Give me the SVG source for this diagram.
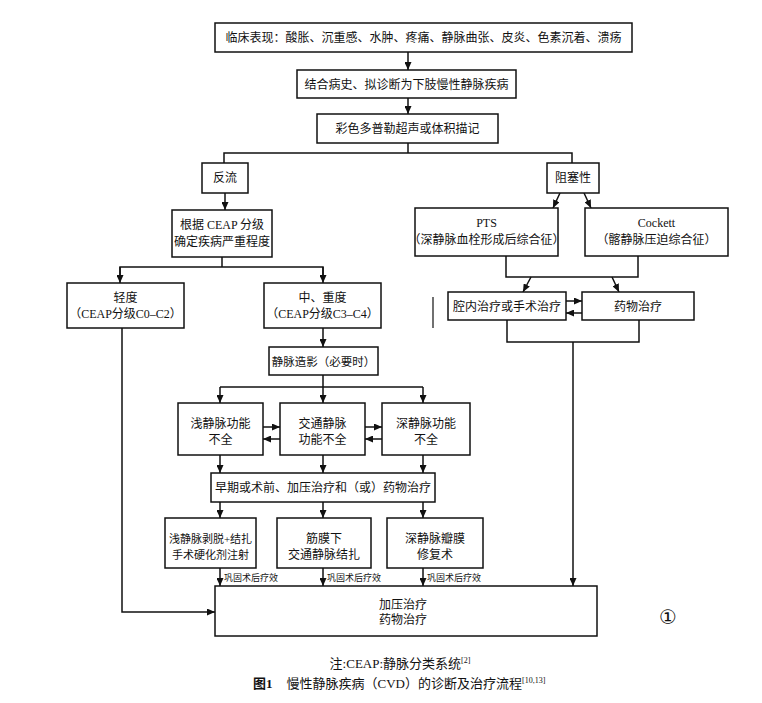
<svg xmlns="http://www.w3.org/2000/svg" width="762" height="703" viewBox="0 0 762 703">
<style>
.b{fill:#fff;stroke:#111;stroke-width:1.5}
.t{font-family:"Liberation Serif","Noto Sans CJK SC",serif;font-size:12px;fill:#111;text-anchor:middle}
.s{font-family:"Liberation Serif","Noto Sans CJK SC",serif;font-size:9px;fill:#111}
.c{fill:none;stroke:#111;stroke-width:1.5}
.a{fill:none;stroke:#111;stroke-width:1.5;marker-end:url(#ah)}
</style>
<defs>
<marker id="ah" markerUnits="userSpaceOnUse" markerWidth="8" markerHeight="7" refX="8" refY="3.5" orient="auto">
<path d="M0,0 L8,3.5 L0,7 z" fill="#111"/>
</marker>
</defs>
<rect width="762" height="703" fill="#fff"/>
<g id="connectors">
<line class="a" x1="408" y1="52" x2="408" y2="70"/>
<line class="a" x1="408" y1="98" x2="408" y2="114"/>
<line class="c" x1="408" y1="143" x2="408" y2="153"/>
<polyline class="c" points="224,163 224,153 572,153 572,163"/>
<line class="a" x1="225" y1="193" x2="225" y2="210"/>
<line class="c" x1="222" y1="257" x2="222" y2="267"/>
<polyline class="c" points="120,275 120,267 323,267 323,275"/>
<line class="a" x1="120" y1="267" x2="120" y2="283"/>
<line class="a" x1="323" y1="267" x2="323" y2="283"/>
<line class="a" x1="560" y1="193" x2="553" y2="208"/>
<line class="a" x1="584" y1="193" x2="591" y2="208"/>
<polyline class="c" points="506,256 506,277 638,277 638,256"/>
<line class="a" x1="531" y1="277" x2="523" y2="292"/>
<line class="a" x1="612" y1="277" x2="619" y2="292"/>
<line class="a" x1="566" y1="301" x2="582" y2="301"/>
<line class="a" x1="582" y1="313" x2="566" y2="313"/>
<polyline class="c" points="507,320 507,342 639,342 639,320"/>
<line class="a" x1="573" y1="342" x2="573" y2="586"/>
<line class="c" x1="433" y1="297" x2="433" y2="328" style="stroke-width:1.2"/>
<line class="a" x1="323" y1="328" x2="323" y2="347"/>
<line class="c" x1="323" y1="375" x2="323" y2="387"/>
<line class="c" x1="220" y1="387" x2="423" y2="387"/>
<line class="a" x1="220" y1="387" x2="220" y2="403"/>
<line class="a" x1="323" y1="387" x2="323" y2="403"/>
<line class="a" x1="423" y1="387" x2="423" y2="403"/>
<line class="a" x1="263" y1="427" x2="280" y2="427"/>
<line class="a" x1="280" y1="439" x2="263" y2="439"/>
<line class="a" x1="365" y1="427" x2="382" y2="427"/>
<line class="a" x1="382" y1="439" x2="365" y2="439"/>
<line class="a" x1="220" y1="455" x2="220" y2="473"/>
<line class="a" x1="323" y1="455" x2="323" y2="473"/>
<line class="a" x1="423" y1="455" x2="423" y2="473"/>
<line class="a" x1="220" y1="502" x2="220" y2="518"/>
<line class="a" x1="323" y1="502" x2="323" y2="518"/>
<line class="a" x1="423" y1="502" x2="423" y2="518"/>
<line class="a" x1="220" y1="568" x2="220" y2="586"/>
<line class="a" x1="323" y1="568" x2="323" y2="586"/>
<line class="a" x1="423" y1="568" x2="423" y2="586"/>
<polyline class="a" points="122,328 122,612 215,612"/>
<text class="s" x="224" y="581">巩固术后疗效</text>
<text class="s" x="327" y="581">巩固术后疗效</text>
<text class="s" x="427" y="581">巩固术后疗效</text>
</g>
<g id="n1"><rect class="b" x="215" y="23" width="417" height="29"/><text class="t" x="423.5" y="42">临床表现：酸胀、沉重感、水肿、疼痛、静脉曲张、皮炎、色素沉着、溃疡</text></g>
<g id="n2"><rect class="b" x="297" y="70" width="219" height="28"/><text class="t" x="406.5" y="88.5">结合病史、拟诊断为下肢慢性静脉疾病</text></g>
<g id="n3"><rect class="b" x="317" y="114" width="181" height="29"/><text class="t" x="407.5" y="133">彩色多普勒超声或体积描记</text></g>
<g id="n4"><rect class="b" x="202" y="163" width="46" height="30"/><text class="t" x="225" y="182">反流</text></g>
<g id="n5"><rect class="b" x="547" y="163" width="52" height="30"/><text class="t" x="573" y="182">阻塞性</text></g>
<g id="n6"><rect class="b" x="172" y="210" width="100" height="47"/><text class="t" x="222" y="228.5">根据 CEAP 分级</text><text class="t" x="222" y="245.5">确定疾病严重程度</text></g>
<g id="n7"><rect class="b" x="415" y="208" width="143" height="48"/><text class="t" x="486.5" y="227">PTS</text><text class="t" x="486.5" y="244">（深静脉血栓形成后综合征）</text></g>
<g id="n8"><rect class="b" x="585" y="208" width="143" height="48"/><text class="t" x="656.5" y="227">Cockett</text><text class="t" x="656.5" y="244">（髂静脉压迫综合征）</text></g>
<g id="n9"><rect class="b" x="67" y="283" width="117" height="45"/><text class="t" x="125.5" y="302">轻度</text><text class="t" x="125.5" y="318">（CEAP分级C0–C2）</text></g>
<g id="n10"><rect class="b" x="264" y="283" width="117" height="45"/><text class="t" x="322.5" y="302">中、重度</text><text class="t" x="322.5" y="318">（CEAP分级C3–C4）</text></g>
<g id="n11"><rect class="b" x="448" y="292" width="118" height="28"/><text class="t" x="507" y="310.5">腔内治疗或手术治疗</text></g>
<g id="n12"><rect class="b" x="582" y="292" width="112" height="28"/><text class="t" x="638" y="310.5">药物治疗</text></g>
<g id="n13"><rect class="b" x="269" y="347" width="109" height="28"/><text class="t" x="323.5" y="365.5" style="font-size:11.5px">静脉造影（必要时）</text></g>
<g id="n14"><rect class="b" x="178" y="403" width="85" height="52"/><text class="t" x="220.5" y="428">浅静脉功能</text><text class="t" x="220.5" y="443.5">不全</text></g>
<g id="n15"><rect class="b" x="280" y="403" width="85" height="52"/><text class="t" x="322.5" y="428">交通静脉</text><text class="t" x="322.5" y="443.5">功能不全</text></g>
<g id="n16"><rect class="b" x="382" y="403" width="88" height="52"/><text class="t" x="426" y="428">深静脉功能</text><text class="t" x="426" y="443.5">不全</text></g>
<g id="n17"><rect class="b" x="211" y="473" width="224" height="29"/><text class="t" x="323" y="491.5">早期或术前、加压治疗和（或）药物治疗</text></g>
<g id="n18"><rect class="b" x="165" y="518" width="91" height="50"/><text class="t" x="210.5" y="543" style="font-size:11px">浅静脉剥脱+结扎</text><text class="t" x="210.5" y="558.5" style="font-size:11px">手术硬化剂注射</text></g>
<g id="n19"><rect class="b" x="277" y="518" width="94" height="50"/><text class="t" x="324" y="543">筋膜下</text><text class="t" x="324" y="558.5">交通静脉结扎</text></g>
<g id="n20"><rect class="b" x="387" y="518" width="96" height="50"/><text class="t" x="435" y="543">深静脉瓣膜</text><text class="t" x="435" y="558.5">修复术</text></g>
<g id="n21"><rect class="b" x="215" y="586" width="382" height="50"/><text class="t" x="403" y="609">加压治疗</text><text class="t" x="403" y="624">药物治疗</text></g>
<text x="668" y="624" style="font-family:'DejaVu Sans',sans-serif;font-size:20px;text-anchor:middle;fill:#111">①</text>
<text x="400" y="668" class="t" style="font-size:13px">注:CEAP:静脉分类系统<tspan dy="-5" style="font-size:8px">[2]</tspan></text>
<text x="253" y="688" style="font-family:'Liberation Serif','Noto Sans CJK SC',serif;font-size:13px;fill:#111"><tspan font-weight="bold">图1</tspan><tspan dx="14">慢性静脉疾病（CVD）的诊断及治疗流程</tspan><tspan dy="-5" style="font-size:8px">[10,13]</tspan></text>
</svg>
